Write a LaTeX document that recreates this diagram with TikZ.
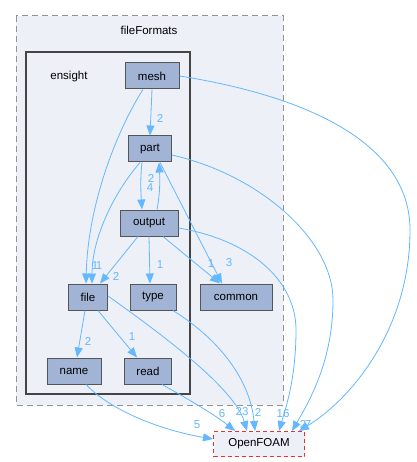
\documentclass[tikz,border=0pt]{standalone}
\usepackage{fontspec}
\setmainfont{Liberation Sans}
\usetikzlibrary{arrows.meta}
\definecolor{edgec}{HTML}{63B8FF}
\definecolor{nodefill}{HTML}{A2B4D6}
\definecolor{clfill}{HTML}{EDF0F7}
\definecolor{nodeborder}{HTML}{555555}
\definecolor{clborder}{HTML}{444444}
\definecolor{ofred}{HTML}{E8322E}
\tikzset{
  dirbox/.style={draw=nodeborder, fill=nodefill, minimum height=26pt, inner sep=0pt, line width=1pt},
  dep/.style={draw=edgec, line width=0.8pt, -{Triangle[length=10pt,width=8pt]}},
  lbl/.style={text=edgec, inner sep=0pt, font=\fontsize{11.5}{13}\selectfont},
}
\begin{document}
\begin{tikzpicture}[x=1pt,y=-1pt, font=\fontsize{11.5}{13}\selectfont]
\useasboundingbox[fill=white] (0,0) rectangle (416,462);
% clusters
\draw[draw=gray!85, dash pattern=on 6pt off 4pt, fill=clfill, line width=1pt] (16,16) rectangle (283,405);
\node (fflabel) at (149,30) {fileFormats};
\draw[draw=clborder, line width=2pt, fill=clfill] (26,52) rectangle (190,394);
\node (enlabel) at (69,77) {ensight};
% nodes
\node[dirbox, minimum width=54pt] (mesh) at (152,76) {mesh};
\node[dirbox, minimum width=43pt] (part) at (150,149) {part};
\node[dirbox, minimum width=58pt] (output) at (149,223) {output};
\node[dirbox, minimum width=39pt] (file) at (88,297) {file};
\node[dirbox, minimum width=46pt] (type) at (153,297) {type};
\node[dirbox, minimum width=72pt] (common) at (236,297) {common};
\node[dirbox, minimum width=54pt] (name) at (74,371) {name};
\node[dirbox, minimum width=47pt] (read) at (148,371) {read};
\node[draw=ofred, dash pattern=on 4pt off 3pt, fill=clfill, minimum width=91pt, minimum height=25pt, inner sep=0pt, line width=1pt] (OF) at (259,444) {OpenFOAM};
% edges
\draw[dep] (mesh.south) -- (part.north);
\draw[dep] ([xshift=-9pt]mesh.south) .. controls (120,125) and (88,200) .. ([xshift=-2pt]file.north);
\draw[dep] (mesh.east) .. controls (300,95) and (410,140) .. (410,230) .. controls (410,330) and (350,400) .. ([xshift=40pt]OF.north);
\draw[dep] ([xshift=-8pt]part.south) .. controls (140,180) and (141,195) .. ([xshift=-7pt]output.north);
\draw[dep] ([xshift=8pt]output.north) .. controls (160,195) and (160,180) .. ([xshift=9pt]part.south);
\draw[dep] ([xshift=-10pt]part.south) .. controls (112,195) and (92,240) .. ([xshift=4pt]file.north);
\draw[dep] ([xshift=10pt]part.south) -- ([xshift=-14pt]common.north);
\draw[dep] ([yshift=-6pt]part.east) .. controls (260,175) and (333,240) .. (333,300) .. controls (333,360) and (310,400) .. ([xshift=33pt]OF.north);
\draw[dep] ([xshift=-11pt]output.south) -- ([xshift=12pt]file.north);
\draw[dep] (output.south) -- ([xshift=-3pt]type.north);
\draw[dep] ([xshift=14pt]output.south) -- ([xshift=-16pt]common.north);
\draw[dep] ([yshift=-5pt]output.east) .. controls (250,240) and (296,280) .. (296,330) .. controls (296,380) and (285,410) .. ([xshift=20pt]OF.north);
\draw[dep] ([xshift=-3pt]file.south) -- ([xshift=3pt]name.north);
\draw[dep] ([xshift=10pt]file.south) -- ([xshift=-11pt]read.north);
\draw[dep] ([yshift=1pt]file.east) .. controls (170,340) and (235,390) .. ([xshift=-12pt]OF.north);
\draw[dep] ([xshift=20pt]type.south) .. controls (220,340) and (250,380) .. ([xshift=-4pt]OF.north);
\draw[dep] ([xshift=14pt]read.south) .. controls (190,400) and (215,415) .. ([xshift=-24pt]OF.north);
\draw[dep] ([xshift=12pt]name.south) .. controls (110,410) and (160,430) .. ([yshift=5pt]OF.west);
% labels
\node[lbl] (l1) at (160,118) {2};
\node[lbl] (l2) at (151,178) {2};
\node[lbl] (l3) at (150,188) {4};
\node[lbl] (l4) at (95,266) {1};
\node[lbl] (l5) at (99,266) {1};
\node[lbl] (l6) at (116,276) {2};
\node[lbl] (l7) at (160,265) {1};
\node[lbl] (l8) at (211,264) {1};
\node[lbl] (l9) at (229,263) {3};
\node[lbl] (l10) at (88,341) {2};
\node[lbl] (l11) at (132,337) {1};
\node[lbl] (l12) at (197,425) {5};
\node[lbl] (l13) at (222,414) {6};
\node[lbl] (l14) at (242,412) {23};
\node[lbl] (l15) at (258,412) {2};
\node[lbl] (l16) at (283,414) {16};
\node[lbl] (l17) at (303,424) {2};
\node[lbl] (l18) at (308,425) {7};
\end{tikzpicture}
\end{document}
